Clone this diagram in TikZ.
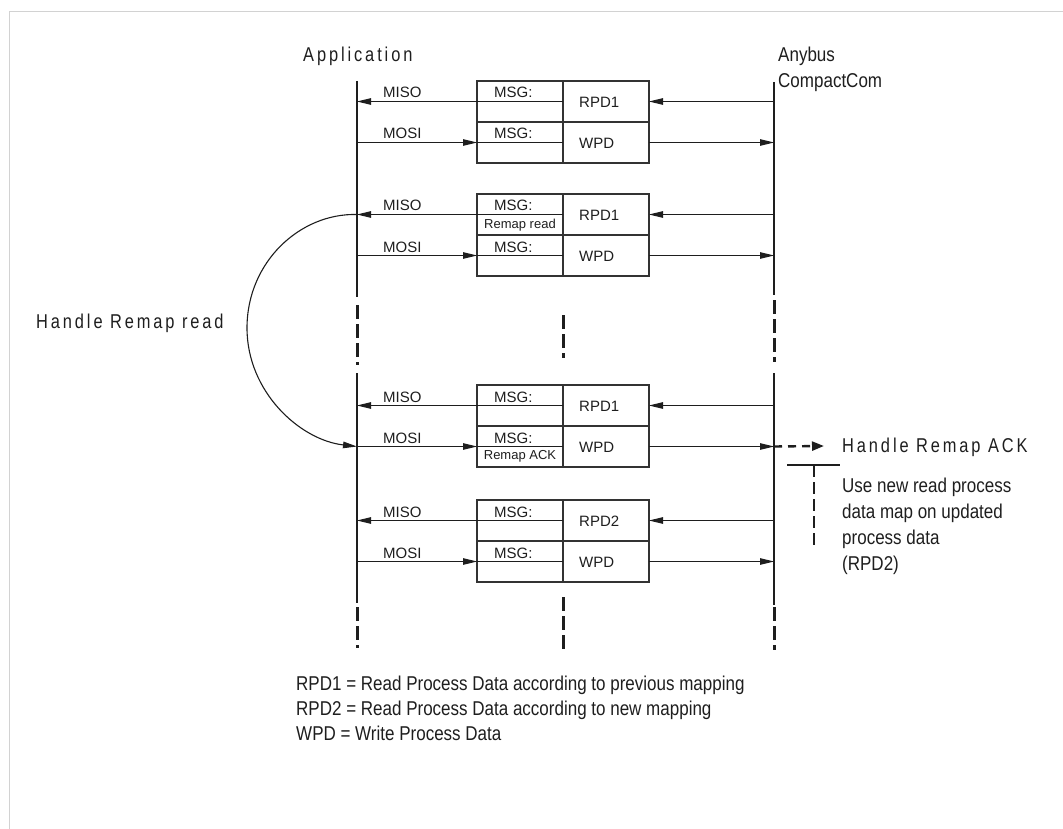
\documentclass[tikz,border=0pt]{standalone}
\usepackage{fontspec}
\setmainfont{Liberation Sans}
\newfontfamily\condfont[FakeStretch=0.85]{Liberation Sans}
\newfontfamily\spacedfont[FakeStretch=0.82,LetterSpace=14.5]{Liberation Sans}
\usetikzlibrary{arrows.meta}
\definecolor{ink}{HTML}{1E1E1E}
\definecolor{boxink}{HTML}{333333}
\definecolor{framegray}{HTML}{D2D2D2}
\tikzset{
  cell/.style={draw=boxink, line width=1.2pt, minimum width=86pt, minimum height=41pt,
    inner sep=0pt, outer sep=0pt, anchor=north west},
  arr/.style={-{Triangle[length=14pt,width=6.5pt]}, line width=1.1pt, draw=ink},
  plain/.style={line width=1.1pt, draw=ink},
  lifeline/.style={line width=1.6pt, draw=ink},
  lifedash/.style={line width=3pt, draw=ink, dash pattern=on 14pt off 5pt},
  lbl/.style={font=\fontsize{15}{15}\selectfont, text=ink, inner sep=0pt, anchor=base west},
  datalbl/.style={font=\fontsize{15}{15}\selectfont, text=ink, inner sep=0pt, anchor=west},
  small/.style={font=\fontsize{13}{13}\selectfont, text=ink, inner sep=0pt, anchor=base},
  big/.style={font=\condfont\fontsize{20}{26}\selectfont, text=ink, inner sep=0pt},
  spaced/.style={font=\spacedfont\fontsize{20}{24}\selectfont, text=ink, inner sep=0pt, anchor=base west},
}
\begin{document}
\begin{tikzpicture}[x=1pt,y=-1pt]
\useasboundingbox (0,0) rectangle (1063,829);
% frame
\draw[draw=framegray, line width=1pt] (9.5,829) -- (9.5,11.5) -- (1063,11.5);

% titles
\node[spaced] (app) at (303,62) {Application};
\node[big, anchor=north west, align=left, font=\condfont\fontsize{20}{25.6}\selectfont] (abcc) at (778,47.1) {Anybus\\CompactCom};

% lifelines
\draw[lifeline] (357,81) -- (357,297);
\draw[lifedash] (357,305) -- (357,365);
\draw[lifeline] (357,373) -- (357,603);
\draw[lifedash] (357,607) -- (357,648);
\draw[lifeline] (774,82) -- (774,295);
\draw[lifedash] (774,300) -- (774,362);
\draw[lifeline] (774,373) -- (774,605);
\draw[lifedash] (774,607) -- (774,650);
\draw[lifedash] (563,315) -- (563,358);
\draw[lifedash] (563,597) -- (563,653);

% message groups
\foreach \i/\T/\rdtxt in {1/81/RPD1, 2/194/RPD1, 3/385/RPD1, 4/500/RPD2}{
  \node[cell] (rm\i) at (477,\T) {};
  \node[cell] (rd\i) at (563,\T) {};
  \node[cell] (wm\i) at (477,\T+41) {};
  \node[cell] (wd\i) at (563,\T+41) {};
  \coordinate (Lr\i) at (357,\T+20.5);
  \coordinate (Rr\i) at (774,\T+20.5);
  \coordinate (Lw\i) at (357,\T+61.5);
  \coordinate (Rw\i) at (774,\T+61.5);
  % MISO
  \draw[arr] (Rr\i) -- (rd\i.east);
  \draw[arr] (rd\i.west) -- (Lr\i);
  % MOSI
  \draw[arr] (Lw\i) -- (wm\i.west);
  \draw[plain] (wm\i.west) -- (wd\i.west);
  \draw[arr] (wd\i.east) -- (Rw\i);
  % labels
  \node[lbl] (miso\i) at (383,\T+17) {MISO};
  \node[lbl] (mosi\i) at (383,\T+58) {MOSI};
  \node[lbl] (rmt\i) at (494,\T+17) {MSG:};
  \node[lbl] (wmt\i) at (494,\T+58) {MSG:};
  \node[datalbl] (rdt\i) at (579,\T+21) {\rdtxt};
  \node[datalbl] (wdt\i) at (579,\T+62) {WPD};
}
\node[small] (rr) at (520,228.5) {Remap read};
\node[small] (ra) at (520,459.5) {Remap ACK};

% Handle Remap read loop
\coordinate (hrl) at (247,328);
\draw[arr] (Lr2) .. controls (300,213) and (247,262) .. (hrl)
               .. controls (247,392) and (300,440) .. (Lw3);
\node[spaced] (hrr) at (36,328) {Handle Remap read};

% Handle Remap ACK
\coordinate (ackTip) at (824,446);
\draw[-{Triangle[length=12pt,width=9pt]}, line width=2.4pt, draw=ink, dash pattern=on 8pt off 6pt] (Rw3) -- (ackTip);
\node[spaced] (hra) at (842,452) {Handle Remap ACK};
\coordinate (tA) at (787,465);
\coordinate (tB) at (840,465);
\coordinate (tC) at (814,465);
\coordinate (tD) at (814,548);
\draw[plain] (tA) -- (tB);
\draw[line width=2.2pt, draw=ink, dash pattern=on 12pt off 5pt] (tC) -- (tD);
\node[big, anchor=north west, align=left] (note) at (842,477.4)
  {Use new read process\\data map on updated\\process data\\(RPD2)};

% legend
\node[anchor=north west, align=left, inner sep=0pt, text=ink,
      font=\condfont\fontsize{20}{24.7}\selectfont] (legend) at (296,676.1)
  {RPD1 = Read Process Data according to previous mapping\\
   RPD2 = Read Process Data according to new mapping\\
   WPD = Write Process Data};
\end{tikzpicture}
\end{document}
